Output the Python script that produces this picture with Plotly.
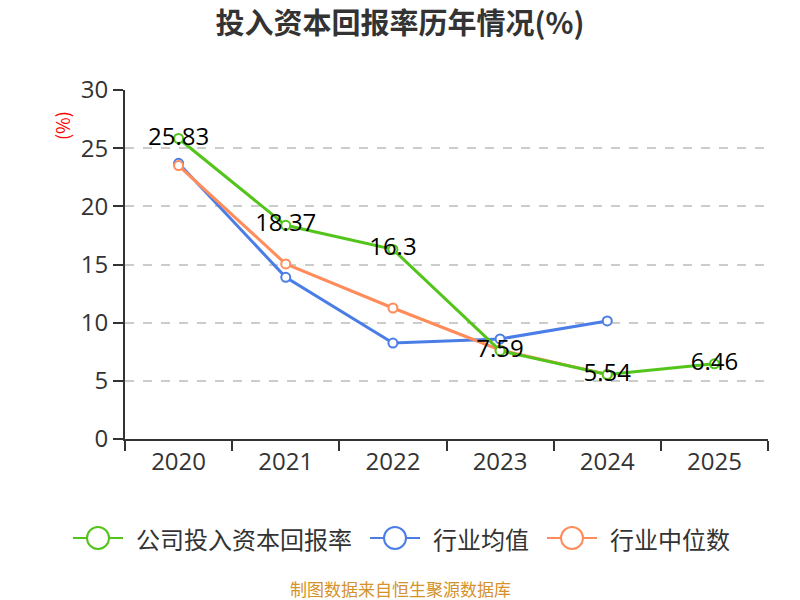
import plotly.graph_objects as go

years = ["2020", "2021", "2022", "2023", "2024", "2025"]
company = [25.83, 18.37, 16.3, 7.59, 5.54, 6.46]
industry_avg = [23.7, 13.9, 8.25, 8.6, 10.15, None]
industry_median = [23.5, 15.05, 11.26, 7.65, 5.54, None]
company_labels = ["25.83", "18.37", "16.3", "7.59", "5.54", "6.46"]
series_names = ["公司投入资本回报率", "行业均值", "行业中位数"]

GREEN = "#52c41a"
BLUE = "#4a7ee6"
ORANGE = "#ff8c5a"
FONT = "Open Sans, Noto Sans CJK SC"
CJK = "Noto Sans CJK SC"

# plot area in pixels
L, R, T, B = 125, 768, 90, 439
PW, PH = R - L, B - T

def px(x):
    return (x - L) / PW

def py(y):
    return (B - y) / PH

fig = go.Figure()

def marker(c):
    return dict(size=9, color="white", line=dict(color=c, width=2))

fig.add_trace(go.Scatter(
    x=years, y=industry_avg, name=series_names[1], mode="lines+markers",
    line=dict(color=BLUE, width=3), marker=marker(BLUE), showlegend=False,
))
fig.add_trace(go.Scatter(
    x=years, y=industry_median, name=series_names[2], mode="lines+markers",
    line=dict(color=ORANGE, width=3), marker=marker(ORANGE), showlegend=False,
))
fig.add_trace(go.Scatter(
    x=years, y=company, name=series_names[0], mode="lines+markers+text",
    text=company_labels, textposition="middle center",
    textfont=dict(size=24, color="#000000", family=FONT),
    line=dict(color=GREEN, width=3), marker=marker(GREEN), showlegend=False,
))

fig.update_layout(
    width=800, height=600,
    paper_bgcolor="white", plot_bgcolor="white",
    margin=dict(l=L, r=800 - R, t=T, b=600 - B),
    font=dict(family=FONT, color="#333333"),
    title=dict(text="<b>投入资本回报率历年情况(%)</b>", x=0.5, xanchor="center",
               y=1 - 24 / 600, yanchor="middle",
               font=dict(size=29, color="#333333", family=CJK)),
    showlegend=False,
    xaxis=dict(type="category", categoryorder="array", categoryarray=years,
               range=[-0.5, 5.5],
               showline=True, linecolor="#333333", linewidth=2,
               ticks="outside", ticklen=10, tickcolor="#333333", tickwidth=1.5,
               tickson="boundaries", showgrid=False,
               tickfont=dict(size=24, color="#333333")),
    yaxis=dict(range=[0, 30], dtick=5, showline=True, linecolor="#333333", linewidth=2,
               ticks="outside", ticklen=10, tickcolor="#333333", tickwidth=1.5,
               showgrid=True, gridcolor="#cccccc", griddash="dash", gridwidth=1.5,
               zeroline=False,
               tickfont=dict(size=24, color="#333333")),
)

# custom legend (large circle symbols)
legend_y = 538
legend_items = [(series_names[0], GREEN, 73), (series_names[1], BLUE, 370), (series_names[2], ORANGE, 547)]
for name, c, x0 in legend_items:
    fig.add_shape(type="line", xref="paper", yref="paper",
                  x0=px(x0), x1=px(x0 + 50), y0=py(legend_y), y1=py(legend_y),
                  line=dict(color=c, width=2))
    cx, r = x0 + 25, 11
    fig.add_shape(type="circle", xref="paper", yref="paper",
                  x0=px(cx - r), x1=px(cx + r), y0=py(legend_y + r), y1=py(legend_y - r),
                  line=dict(color=c, width=2), fillcolor="white")
    fig.add_annotation(text=name, xref="paper", yref="paper",
                       x=px(x0 + 61), y=py(legend_y), xanchor="left", yanchor="middle",
                       showarrow=False,
                       font=dict(size=24, color="#333333", family=CJK))

fig.add_annotation(text="(%)", xref="paper", yref="paper",
                   x=px(62), y=py(126),
                   textangle=-90, showarrow=False,
                   font=dict(size=18, color="red", family=CJK),
                   xanchor="center", yanchor="middle")
fig.add_annotation(text="制图数据来自恒生聚源数据库", xref="paper", yref="paper",
                   x=px(400), y=py(588),
                   showarrow=False, xanchor="center", yanchor="middle",
                   font=dict(size=17, color="#d4922a", family=CJK))

fig.write_html("out.html")
